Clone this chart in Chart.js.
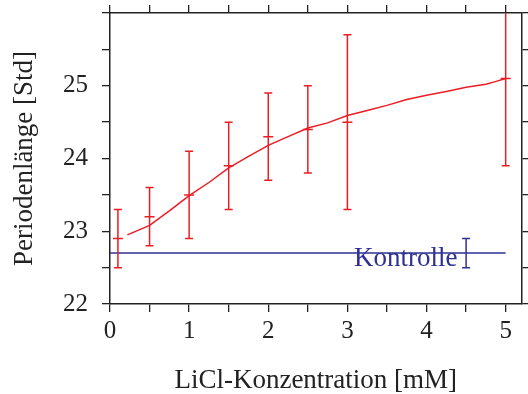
<!DOCTYPE html>
<html>
<head>
<meta charset="utf-8">
<script src="https://cdn.jsdelivr.net/npm/chart.js@4/dist/chart.umd.min.js"></script>
<style>
  html, body { margin: 0; padding: 0; background: #fff; }
  #wrap { width: 528px; height: 394px; }
</style>
</head>
<body>
<div id="wrap"><canvas id="chart" width="528" height="394"></canvas></div>
<script>
// measured points (LiCl in mM, period in h) with error
const measX = [0.1, 0.5, 1, 1.5, 2, 2.5, 3, 5];
const measY = [22.9, 23.2, 23.5, 23.9, 24.3, 24.4, 24.5, 25.1];
const measErr = [0.4, 0.4, 0.6, 0.6, 0.6, 0.6, 1.2, 1.2];

// fitted curve
const fitX = [0.22, 0.5, 0.75, 1, 1.25, 1.5, 1.75, 2, 2.25, 2.5, 2.75, 3, 3.25, 3.5, 3.75, 4, 4.25, 4.5, 4.75, 4.88, 5];
const fitY = [22.95, 23.08, 23.28, 23.49, 23.67, 23.87, 24.03, 24.18, 24.3, 24.42, 24.49, 24.59, 24.66, 24.73, 24.81, 24.87, 24.92, 24.98, 25.02, 25.06, 25.1];

// control
const ctrlX = [0, 5];
const ctrlY = 22.7;
const ctrlErrX = 4.5;
const ctrlErr = 0.2;
const ctrlLabel = "Kontrolle";

const xTicks = [0, 0.5, 1, 1.5, 2, 2.5, 3, 3.5, 4, 4.5, 5];
const yTicks = [22, 22.5, 23, 23.5, 24, 24.5, 25, 25.5, 26];
const xLabels = [0, 1, 2, 3, 4, 5];
const yLabels = [22, 23, 24, 25];

const RED = "#ec1c24";
const BLUE = "#2e3192";
const INK = "#222";
const FONT = "'Liberation Serif', 'DejaVu Serif', serif";

function errPoints(xs, ys, es) {
  const pts = [];
  xs.forEach((x, i) => {
    pts.push({ x: x, y: ys[i] - es[i] });
    pts.push({ x: x, y: ys[i] + es[i] });
    pts.push({ x: x, y: null });
  });
  return pts;
}

function setTicks(list) {
  return (scale) => { scale.ticks = list.map((v) => ({ value: v })); };
}

// fixed box sizes, no extra padding for overhanging labels
function fixSize(w, h) {
  return (s) => {
    if (w !== null) s.width = w;
    if (h !== null) s.height = h;
    s.paddingTop = 0; s.paddingBottom = 0; s.paddingLeft = 0; s.paddingRight = 0;
  };
}

const gridCfg = { drawOnChartArea: false, tickLength: 8, color: INK, lineWidth: 1.3 };
const borderCfg = { color: INK, width: 1.5 };

const labelPlugin = {
  id: "ctrlLabel",
  afterDatasetsDraw(chart) {
    const { ctx, scales } = chart;
    ctx.save();
    ctx.font = "27px " + FONT;
    ctx.fillStyle = BLUE;
    ctx.textAlign = "right";
    ctx.textBaseline = "alphabetic";
    ctx.fillText(ctrlLabel, scales.x.getPixelForValue(4.39), scales.y.getPixelForValue(22.52));
    ctx.restore();
  }
};

new Chart(document.getElementById("chart"), {
  type: "scatter",
  data: {
    datasets: [
      {
        type: "line",
        data: fitX.map((x, i) => ({ x: x, y: fitY[i] })),
        borderColor: RED, borderWidth: 1.5, pointRadius: 0, tension: 0
      },
      {
        type: "line",
        data: errPoints(measX, measY, measErr),
        borderColor: RED, borderWidth: 1.5, spanGaps: false,
        pointStyle: "line", pointRadius: 4, pointBorderColor: RED, pointBorderWidth: 1.5
      },
      {
        data: measX.map((x, i) => ({ x: x, y: measY[i] })),
        pointStyle: "line", pointRadius: 5, borderColor: RED, pointBorderWidth: 1.5
      },
      {
        type: "line",
        data: ctrlX.map((x) => ({ x: x, y: ctrlY })),
        borderColor: BLUE, borderWidth: 1.5, pointRadius: 0
      },
      {
        type: "line",
        data: errPoints([ctrlErrX], [ctrlY], [ctrlErr]),
        borderColor: BLUE, borderWidth: 1.5, spanGaps: false,
        pointStyle: "line", pointRadius: 4, pointBorderColor: BLUE, pointBorderWidth: 1.5
      }
    ]
  },
  options: {
    responsive: false,
    animation: false,
    layout: { padding: 0 },
    plugins: { legend: { display: false }, tooltip: { enabled: false } },
    scales: {
      x: {
        type: "linear", position: "bottom", min: 0, max: 5.2,
        afterBuildTicks: setTicks(xTicks),
        afterFit: fixSize(null, 90),
        grid: gridCfg, border: borderCfg,
        ticks: {
          color: INK, padding: 4, maxRotation: 0, autoSkip: false,
          font: { family: FONT, size: 25 },
          callback: (v) => xLabels.includes(v) ? String(v) : ""
        },
        title: {
          display: true, text: "LiCl-Konzentration [mM]", color: INK,
          font: { family: FONT, size: 27 }, padding: { top: 0, bottom: -3 }
        }
      },
      x2: {
        type: "linear", position: "top", min: 0, max: 5.2,
        afterBuildTicks: setTicks(xTicks),
        afterFit: fixSize(null, 13),
        grid: gridCfg, border: borderCfg,
        ticks: { display: false }
      },
      y: {
        type: "linear", position: "left", min: 22, max: 26,
        afterBuildTicks: setTicks(yTicks),
        afterFit: fixSize(110, null),
        grid: gridCfg, border: borderCfg,
        ticks: {
          color: INK, padding: 14, autoSkip: false,
          font: { family: FONT, size: 25 },
          callback: (v) => yLabels.includes(v) ? String(v) : ""
        },
        title: {
          display: true, text: "Periodenlänge [Std]", color: INK,
          font: { family: FONT, size: 27 }, padding: { top: 9, bottom: 0 }
        }
      },
      y2: {
        type: "linear", position: "right", min: 22, max: 26,
        afterBuildTicks: setTicks(yTicks),
        afterFit: fixSize(1, null),
        grid: gridCfg, border: borderCfg,
        ticks: { display: false }
      }
    }
  },
  plugins: [labelPlugin]
});
</script>
</body>
</html>
